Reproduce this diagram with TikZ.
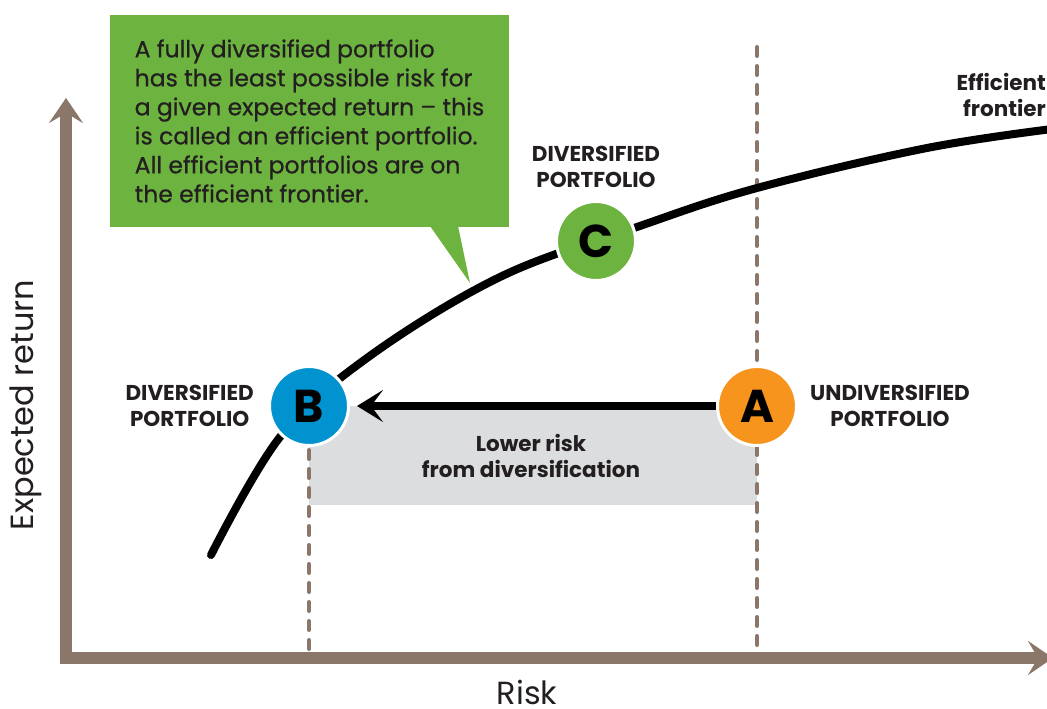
\documentclass[tikz,border=0pt]{standalone}
\usepackage{fontspec}
\setmainfont{Poppins}
\newfontfamily\notefont{Poppins}[FakeBold=0.6]
\usepackage{xcolor,tikz}
\definecolor{axisbrown}{RGB}{138,119,106}
\definecolor{notegreen}{RGB}{109,179,63}
\definecolor{portblue}{RGB}{0,147,208}
\definecolor{portorange}{RGB}{247,148,29}
\definecolor{shadegray}{RGB}{220,221,223}
\definecolor{ink}{RGB}{35,31,32}
\usetikzlibrary{arrows.meta,positioning}
\tikzset{>=stealth,
  axisline/.style={draw=axisbrown,line width=12pt,line join=miter,
    {Stealth[length=25pt,width=34pt,inset=10pt]}-{Stealth[length=25pt,width=34pt,inset=10pt]}},
  guide/.style={draw=axisbrown,line width=4pt,dash pattern=on 9pt off 10pt,line cap=round},
  frontier/.style={draw=black,line width=8pt,line cap=round},
  port/.style={circle,draw=white,line width=3pt,minimum size=79pt,inner sep=0pt,
    font=\fontsize{46}{46}\selectfont\bfseries,text=black},
  tag/.style={align=center,inner sep=0pt,text=ink,font=\fontsize{21.5}{26}\selectfont\bfseries},
  note/.style={fill=notegreen,text=ink,align=left,inner xsep=25pt,inner ysep=0pt,
    minimum width=399pt,minimum height=212pt,font=\fontsize{23.5}{29}\notefont}
}

\begin{document}
\begin{tikzpicture}[x=1pt,y=-1pt]
\useasboundingbox (0,0) rectangle (1047,709);
\fill[shadegray] (309,406) rectangle (757,505);
\draw[guide] (309,450)--(309,652);
\draw[guide] (757,47)--(757,652);
\draw[frontier] plot[smooth,tension=0.6] coordinates {(211,555) (280,437) (367,358) (500,277) (637,227) (757,188) (927,148) (1060,128)};
\draw[axisline] (66,98)--(66,658)--(1053,658);
\node[note] (callout) at (309.5,121) {A fully diversified portfolio\\has the least possible risk for\\a given expected return – this\\is called an efficient portfolio.\\All efficient portfolios are on\\the efficient frontier.};
\coordinate (calloutTip) at (470,283);
\fill[notegreen] (430,226)--(calloutTip)--(458,226)--cycle;
\node[port,fill=portblue] (B) at (309,406) {B};
\node[port,fill=portorange] (A) at (757,406) {A};
\node[port,fill=notegreen] (C) at (596,241) {C};
\draw[black,line width=8pt,shorten >=7pt,-{Stealth[length=26pt,width=32pt,inset=12pt]}] (A)--(B);
\node[tag,left=14pt of B] (Blbl) {DIVERSIFIED\\PORTFOLIO};
\node[tag,right=12pt of A] (Albl) {UNDIVERSIFIED\\PORTFOLIO};
\node[tag,above=12pt of C] (Clbl) {DIVERSIFIED\\PORTFOLIO};
\node[tag] (gaplbl) at (531,456) {Lower risk\\from diversification};
\node[tag,align=right,anchor=east] (frontlbl) at (1046,95) {Efficient\\frontier};
\node[text=ink,rotate=90,font=\fontsize{32}{32}\selectfont] (ylbl) at (26,405) {Expected return};
\node[text=ink,anchor=base,inner sep=0pt,font=\fontsize{32}{32}\selectfont] (xlbl) at (527,704) {Risk};
\end{tikzpicture}
\end{document}
